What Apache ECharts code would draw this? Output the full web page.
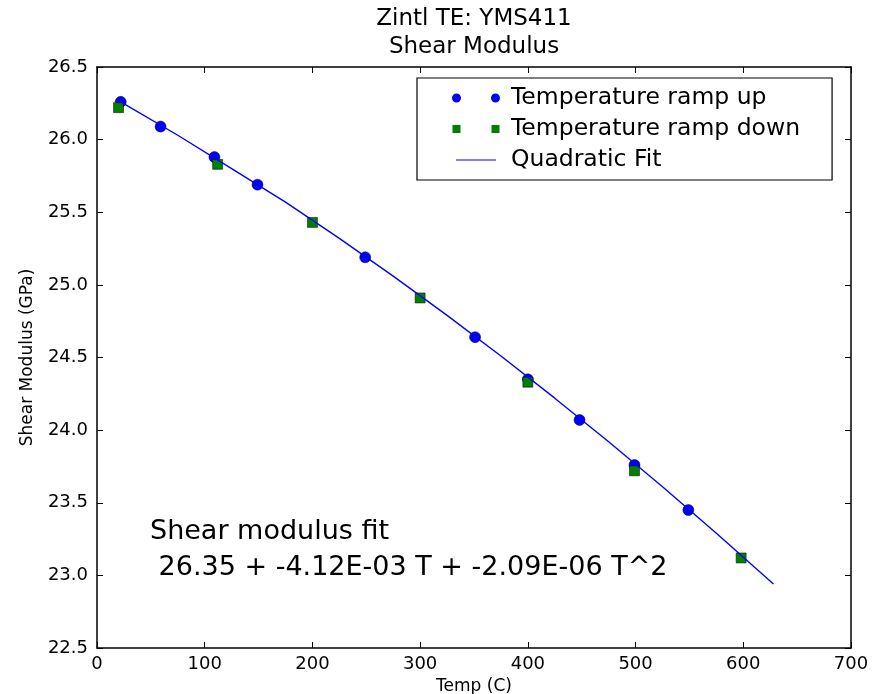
<!DOCTYPE html>
<html>
<head>
<meta charset="utf-8">
<title>Zintl TE: YMS411 Shear Modulus</title>
<script src="https://cdn.jsdelivr.net/npm/echarts@6/dist/echarts.min.js"></script>
<style>
  html, body { margin: 0; padding: 0; background: #fff; }
  #chart { width: 878px; height: 694px; }
</style>
</head>
<body>
<div id="chart"></div>
<script>
// temperature ramp up (C, GPa)
const upTemp = [22, 59, 109, 149, 249, 351, 400, 448, 499, 549]
const upModulus = [26.26, 26.09, 25.88, 25.69, 25.19, 24.64, 24.35, 24.07, 23.76, 23.45]
// temperature ramp down
const downTemp = [20, 112, 200, 300, 400, 499, 598]
const downModulus = [26.22, 25.83, 25.43, 24.91, 24.33, 23.72, 23.12]
// quadratic fit line
const fitTemp = [22, 75, 125, 175, 225, 275, 325, 375, 425, 475, 525, 575, 628]
const fitModulus = [26.26, 26.03, 25.80, 25.57, 25.32, 25.06, 24.79, 24.51, 24.22, 23.92, 23.61, 23.29, 22.94]

const xTicks = { min: 0, max: 700, interval: 100 }
const yTicks = { min: 22.5, max: 26.5, interval: 0.5 }

const font = 'DejaVu Sans'
const pair = (xs, ys) => xs.map((x, i) => [x, ys[i]])

const chart = echarts.init(document.getElementById('chart'), null, { renderer: 'canvas' })

const frameAxis = {
  axisLine: { show: true, onZero: false, lineStyle: { color: '#000', width: 1.5 } },
  axisTick: { show: true, inside: true, length: 6, lineStyle: { color: '#000', width: 1 } },
  splitLine: { show: false }
}

chart.setOption({
  animation: false,
  backgroundColor: '#fff',
  grid: { left: 97, right: 27, top: 67, bottom: 46, containLabel: false, outerBoundsMode: 'none' },
  xAxis: [
    Object.assign({
      type: 'value',
      min: xTicks.min, max: xTicks.max, interval: xTicks.interval,
      position: 'bottom',
      name: 'Temp (C)',
      nameLocation: 'middle',
      nameGap: 27,
      nameTextStyle: { fontFamily: font, fontSize: 17, color: '#000' },
      axisLabel: { fontFamily: font, fontSize: 18, color: '#000', margin: 7 }
    }, frameAxis),
    Object.assign({
      type: 'value',
      min: xTicks.min, max: xTicks.max, interval: xTicks.interval,
      position: 'top',
      axisLabel: { show: false }
    }, frameAxis)
  ],
  yAxis: [
    Object.assign({
      type: 'value',
      min: yTicks.min, max: yTicks.max, interval: yTicks.interval,
      position: 'left',
      name: 'Shear Modulus (GPa)',
      nameLocation: 'middle',
      nameGap: 61,
      nameTextStyle: { fontFamily: font, fontSize: 17, color: '#000' },
      axisLabel: {
        fontFamily: font, fontSize: 18, color: '#000', margin: 9,
        formatter: v => v.toFixed(1)
      }
    }, frameAxis),
    Object.assign({
      type: 'value',
      min: yTicks.min, max: yTicks.max, interval: yTicks.interval,
      position: 'right',
      axisLabel: { show: false }
    }, frameAxis)
  ],
  legend: {
    orient: 'vertical',
    left: 417,
    top: 78,
    padding: [8, 32, 8, 35],
    itemGap: 7,
    itemWidth: 48,
    itemHeight: 9,
    backgroundColor: '#fff',
    borderColor: '#000',
    borderWidth: 1.2,
    borderRadius: 0,
    textStyle: { fontFamily: font, fontSize: 23.5, lineHeight: 24, color: '#000', padding: [0, 0, 0, 6] },
    data: [
      {
        name: 'Temperature ramp up',
        icon: 'path://M0,4.5a4.5,4.5 0 1,0 9,0a4.5,4.5 0 1,0 -9,0Z M39,4.5a4.5,4.5 0 1,0 9,0a4.5,4.5 0 1,0 -9,0Z',
        itemStyle: { color: '#0000ff', borderWidth: 0 }
      },
      {
        name: 'Temperature ramp down',
        icon: 'path://M0.5,0.5h8v8h-8Z M39.5,0.5h8v8h-8Z M0,0h0.01v0.01h-0.01Z M47.99,8.99h0.01v0.01h-0.01Z',
        itemStyle: { color: '#008000', borderWidth: 0 }
      },
      {
        name: 'Quadratic Fit',
        icon: 'path://M0,0h0.01v0.01h-0.01Z M4,3.9h40v1.2h-40Z M47.99,8.99h0.01v0.01h-0.01Z',
        itemStyle: { color: '#0000ff', borderWidth: 0 }
      }
    ]
  },
  graphic: [
    {
      type: 'text',
      x: 474, y: 5,
      style: {
        text: 'Zintl TE: YMS411\nShear Modulus',
        align: 'center', verticalAlign: 'top',
        fontFamily: font, fontSize: 23, lineHeight: 28, fill: '#000'
      }
    },
    {
      type: 'text',
      x: 150, y: 514,
      style: {
        text: 'Shear modulus fit\n 26.35 + -4.12E-03 T + -2.09E-06 T^2',
        verticalAlign: 'top',
        fontFamily: font, fontSize: 27, lineHeight: 36, fill: '#000'
      }
    }
  ],
  series: [
    {
      name: 'Temperature ramp up',
      type: 'scatter',
      symbol: 'circle',
      symbolSize: 11,
      itemStyle: { color: '#0000ff', borderColor: '#000', borderWidth: 0.5, opacity: 1 },
      data: pair(upTemp, upModulus)
    },
    {
      name: 'Temperature ramp down',
      type: 'scatter',
      symbol: 'rect',
      symbolSize: 10,
      itemStyle: { color: '#008000', borderColor: '#000', borderWidth: 0.5, opacity: 1 },
      data: pair(downTemp, downModulus)
    },
    {
      name: 'Quadratic Fit',
      type: 'line',
      showSymbol: false,
      symbol: 'none',
      smooth: false,
      itemStyle: { color: '#0000ff' },
      lineStyle: { color: '#0000ff', width: 1.4 },
      data: pair(fitTemp, fitModulus)
    }
  ]
})
</script>
</body>
</html>
